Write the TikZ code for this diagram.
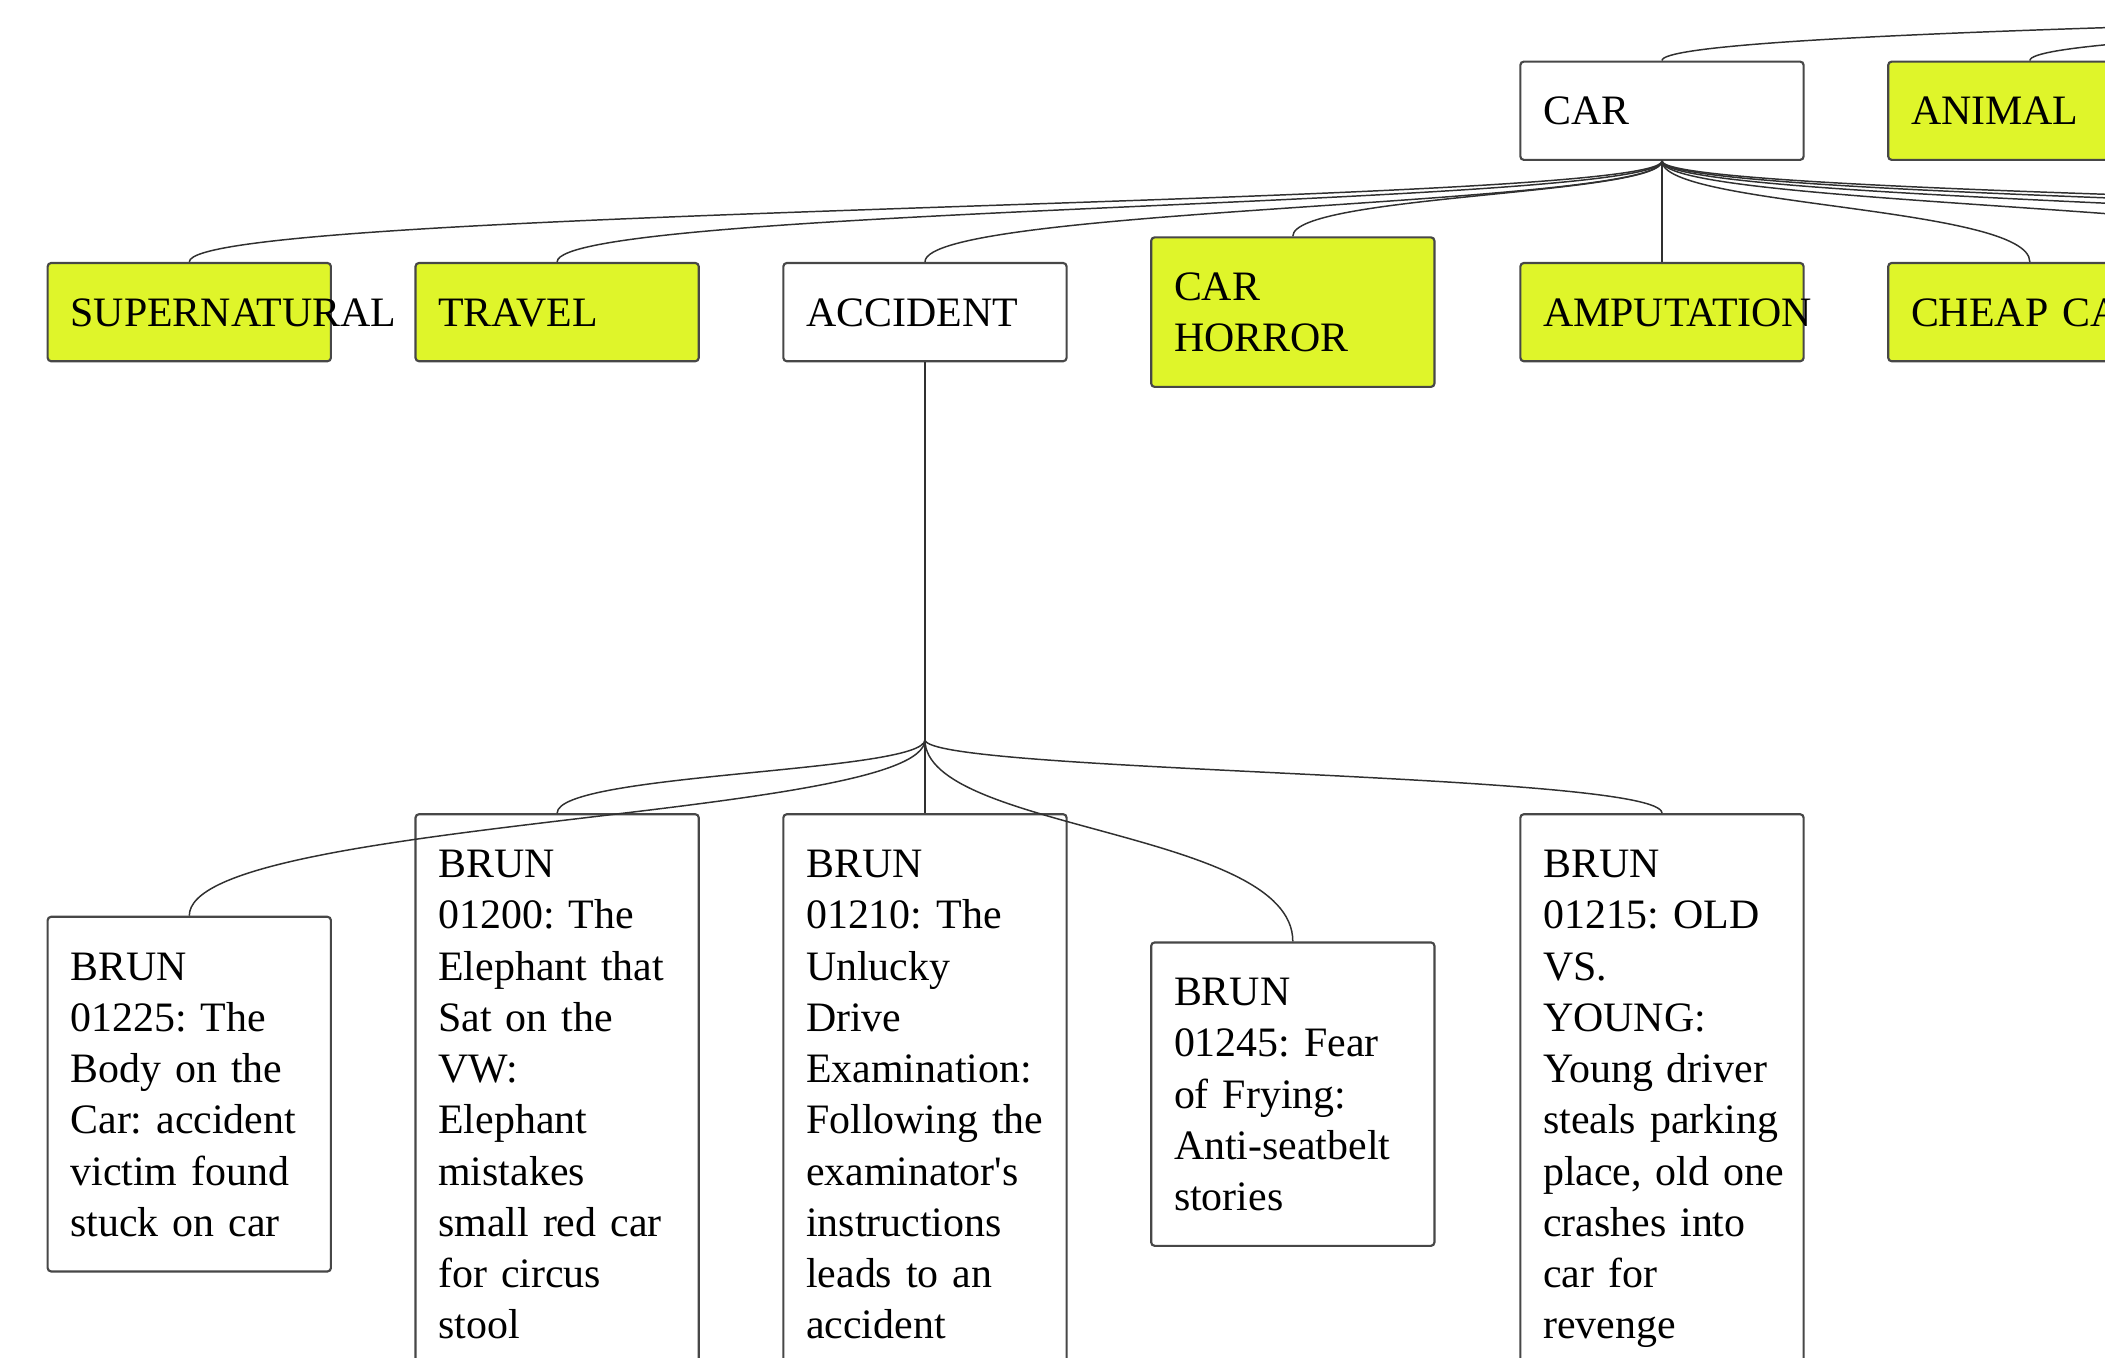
\documentclass[tikz,border=0pt]{standalone}
\usepackage{fontspec}
\setmainfont{Liberation Serif}
\usetikzlibrary{calc}
\hyphenpenalty=10000
\exhyphenpenalty=10000
\definecolor{tagfill}{HTML}{DFF52A}
\definecolor{boxline}{HTML}{474747}
\definecolor{linkline}{HTML}{303030}
\newcommand\linestrut{\rule[-4.3pt]{0pt}{19.1pt}}
\tikzset{
  box/.style={draw=boxline, line width=0.8pt, rounded corners=1.3pt, fill=white,
    text width=88.5pt, inner xsep=8.5pt, inner ysep=8.75pt, align=left,
    font=\fontsize{15.6}{19.1}\selectfont,
    execute at begin node=\linestrut, execute at end node=\linestrut},
  tag/.style={box, fill=tagfill},
  link/.style={draw=linkline, line width=0.55pt,
    to path={let \p1=(\tikztostart), \p2=(\tikztotarget) in
      .. controls (\x1,{\y1+0.45*(\y2-\y1)}) and (\x2,{\y1+0.45*(\y2-\y1)}) .. (\tikztotarget)}},
}
\begin{document}
\begin{tikzpicture}[x=0.5pt, y=-0.5pt]
\useasboundingbox (0,0) rectangle (1568,1011);
\clip (0,0) rectangle (1568,1011);

% row 1
\node[box] (car) at (1238,82.5) {CAR};
\node[tag] (animal) at (1512,82.5) {ANIMAL};
% row 2
\node[tag] (super) at (141,232.5) {SUPERNATURAL};
\node[tag] (travel) at (415,232.5) {TRAVEL};
\node[box] (accident) at (689,232.5) {ACCIDENT};
\node[tag] (horror) at (963,232.5) {CAR\\HORROR};
\node[tag] (amput) at (1238,232.5) {AMPUTATION};
\node[tag] (cheap) at (1512,232.5) {CHEAP~CA};
% row 3
\node[box] (u1) at (141,815) {BRUN\\01225:~The\\Body~on~the\\Car:~accident\\victim~found\\stuck~on~car};
\node[box] (u2) at (415,815) {BRUN\\01200:~The\\Elephant~that\\Sat~on~the\\VW:\\Elephant\\mistakes\\small~red~car\\for~circus\\stool};
\node[box] (u3) at (689,815) {BRUN\\01210:~The\\Unlucky\\Drive\\Examination:\\Following~the\\examinator\textquotesingle s\\instructions\\leads~to~an\\accident};
\node[box] (u4) at (963,815) {BRUN\\01245:~Fear\\of~Frying:\\Anti-seatbelt\\stories};
\node[box] (u5) at (1238,815) {BRUN\\01215:~OLD\\VS.\\YOUNG:\\Young~driver\\steals~parking\\place,~old~one\\crashes~into\\car~for\\revenge};

% off-picture ends
\coordinate (top) at (3400,-31);
\coordinate (c7) at (1786,196);
\coordinate (c8) at (2060,196);
\coordinate (c9) at (2334,196);
\coordinate (c10) at (2608,196);
\coordinate (j) at (689,551);

% connectors
\draw[link] (top) to (car.north);
\draw[link] (top) to (animal.north);
\foreach \t in {super,travel,accident,horror,amput,cheap}
  \draw[link] (car.south) to (\t.north);
\foreach \t in {c7,c8,c9,c10}
  \draw[link] (car.south) to (\t);
\draw[link] (accident.south) -- (j);
\foreach \t in {u1,u2,u3,u4,u5}
  \draw[link] (j) to (\t.north);
\end{tikzpicture}
\end{document}
